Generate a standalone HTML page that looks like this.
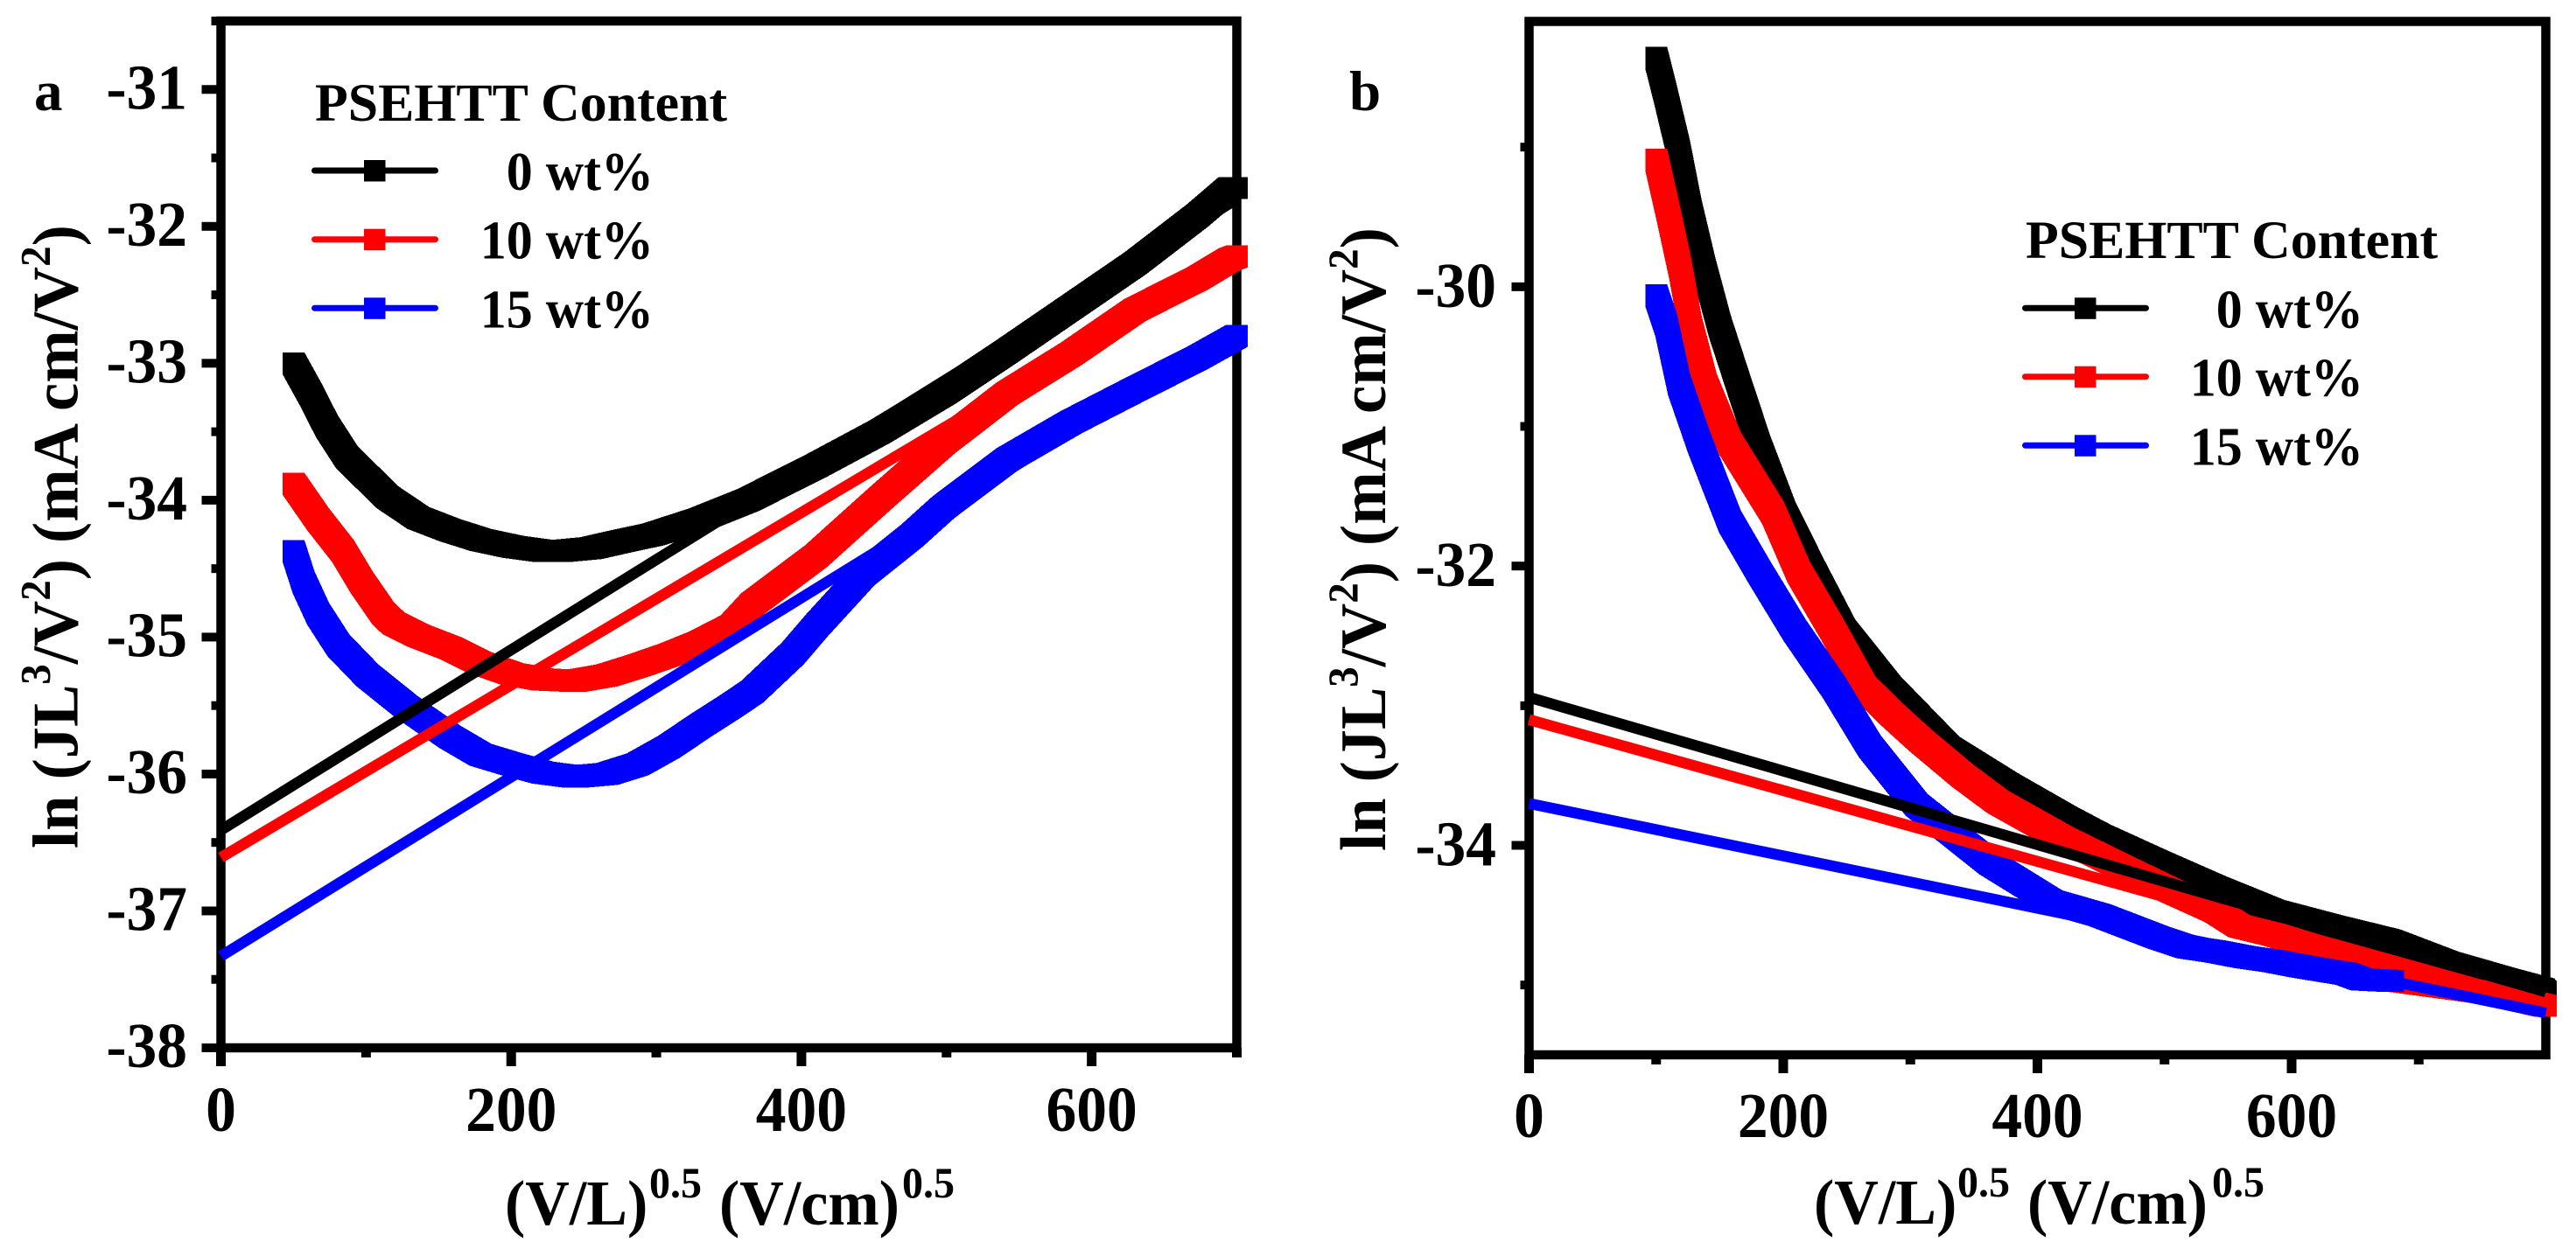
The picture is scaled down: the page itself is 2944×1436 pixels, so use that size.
<!DOCTYPE html>
<html>
<head>
<meta charset="utf-8">
<title>ln(JL3/V2) versus (V/L)0.5 charts</title>
<style>
html,body{margin:0;padding:0;background:#fff;width:2944px;height:1436px;overflow:hidden}
svg{display:block}
text{font-family:"Liberation Serif",serif;font-weight:bold;fill:#000}
</style>
</head>
<body>
<svg id="figure" xmlns="http://www.w3.org/2000/svg" width="2944" height="1436" viewBox="0 0 2944 1436">
<rect x="0" y="0" width="2944" height="1436" fill="#fff"/>
<g id="panel-a">
  <text x="39" y="126" font-size="65">a</text>
  <text transform="translate(88.5,970) rotate(-90) scale(1,1.03)" font-size="72.5">ln (JL<tspan font-size="47" dy="-30.5">3</tspan><tspan dy="30.5">/V</tspan><tspan font-size="47" dy="-30.5">2</tspan><tspan dy="30.5">) (mA cm/V</tspan><tspan font-size="47" dy="-30.5">2</tspan><tspan dy="30.5">)</tspan></text>
  <text transform="translate(0,1400) scale(1,1.04)" font-size="70"><tspan x="577" y="0">(V/L)</tspan><tspan x="742" y="-30" font-size="48">0.5</tspan><tspan x="822" y="0">(V/cm)</tspan><tspan x="1031" y="-30" font-size="48">0.5</tspan></text>
</g>
<g id="panel-b">
  <text x="1542" y="126" font-size="65">b</text>
  <text transform="translate(1583,973) rotate(-90) scale(1,1.03)" font-size="72.5">ln (JL<tspan font-size="47" dy="-30.5">3</tspan><tspan dy="30.5">/V</tspan><tspan font-size="47" dy="-30.5">2</tspan><tspan dy="30.5">) (mA cm/V</tspan><tspan font-size="47" dy="-30.5">2</tspan><tspan dy="30.5">)</tspan></text>
  <text transform="translate(0,1399) scale(1,1.04)" font-size="70"><tspan x="2073" y="0">(V/L)</tspan><tspan x="2237" y="-30" font-size="48">0.5</tspan><tspan x="2317" y="0">(V/cm)</tspan><tspan x="2528" y="-30" font-size="48">0.5</tspan></text>
</g>
</svg>
<script>
// Panel a data
const aBlackX = [50,62,73,87,115,136,158,179,201,222,235,255,276,298,330,363,410,454,498,542,586,630,673,695,700];
const aBlackY = [-33.0,-33.23,-33.46,-33.69,-33.98,-34.13,-34.22,-34.29,-34.34,-34.37,-34.37,-34.35,-34.3,-34.25,-34.14,-34.0,-33.75,-33.5,-33.22,-32.91,-32.59,-32.27,-31.92,-31.72,-31.72];
const aRedX = [50,67,84,97,112,119,136,158,179,201,222,244,266,287,309,330,352,366,410,454,498,542,586,630,673,695,700];
const aRedY = [-33.88,-34.14,-34.37,-34.6,-34.83,-34.9,-34.99,-35.08,-35.19,-35.27,-35.31,-35.32,-35.28,-35.21,-35.13,-35.04,-34.92,-34.76,-34.41,-33.99,-33.58,-33.22,-32.93,-32.61,-32.38,-32.24,-32.22];
const aBlueX = [50,57,67,81,101,128,158,179,201,222,244,266,287,309,330,352,366,394,411,443,476,498,542,586,630,673,695,700];
const aBlueY = [-34.37,-34.6,-34.83,-35.06,-35.28,-35.51,-35.73,-35.86,-35.93,-35.99,-36.02,-36.0,-35.93,-35.8,-35.65,-35.5,-35.4,-35.12,-34.91,-34.54,-34.26,-34.05,-33.7,-33.43,-33.19,-32.96,-32.83,-32.8];
const aFitX = [0,700];
const aFitBlack = [-36.41,-31.8];
const aFitRed = [-36.61,-32.2];
const aFitBlue = [-37.33,-32.75];
const aXMajor = [0,200,400,600];
const aXMinor = [100,300,500,700];
const aYMajor = [-31,-32,-33,-34,-35,-36,-37,-38];
const aYMinor = [-30.5,-31.5,-32.5,-33.5,-34.5,-35.5,-36.5,-37.5];

// Panel b data
const bBlackX = [100,107,118,127,138,150,165,181,201,224,248,284,330,376,422,449,495,540,586,632,677,723,769,798,800];
const bBlackY = [-28.36,-28.61,-29.03,-29.45,-29.87,-30.28,-30.7,-31.14,-31.62,-32.04,-32.46,-32.87,-33.3,-33.56,-33.8,-33.93,-34.12,-34.3,-34.47,-34.58,-34.68,-34.84,-34.96,-35.03,-35.05];
const bRedX = [100,109,119,127,139,158,192,212,239,264,284,307,341,369,420,465,506,540,559,586,632,654,684,757,800];
const bRedY = [-29.09,-29.45,-29.87,-30.28,-30.7,-31.12,-31.62,-32.04,-32.46,-32.87,-33.05,-33.24,-33.5,-33.69,-33.95,-34.15,-34.33,-34.47,-34.58,-34.64,-34.77,-34.83,-34.97,-35.06,-35.15];
const bBlueX = [100,108,118,134,158,181,209,240,268,305,363,411,449,472,495,518,540,563,586,609,643,655,677,680];
const bBlueY = [-30.06,-30.28,-30.7,-31.12,-31.68,-32.04,-32.46,-32.87,-33.29,-33.71,-34.13,-34.4,-34.5,-34.58,-34.66,-34.73,-34.76,-34.8,-34.83,-34.87,-34.92,-34.96,-34.97,-34.97];
const bFitX = [0,800];
const bFitBlack = [-32.94,-35.05];
const bFitRed = [-33.1,-35.13];
const bFitBlue = [-33.7,-35.2];
const bXMajor = [0,200,400,600];
const bXMinor = [100,300,500,700];
const bYMajor = [-30,-32,-34];
const bYMinor = [-29,-31,-33,-35];

const legendLabels = ['0 wt%','10 wt%','15 wt%'];
const seriesColors = ['#000000','#ff0000','#0000ff'];

const NS = 'http://www.w3.org/2000/svg';
function make(tag, attrs, parent){
  const el = document.createElementNS(NS, tag);
  for (const k in attrs) el.setAttribute(k, attrs[k]);
  parent.appendChild(el);
  return el;
}
function scale(d0, d1, r0, r1){
  return v => r0 + (v - d0) * (r1 - r0) / (d1 - d0);
}
function sweepPath(xs, ys, sx, sy, h){
  let d = '';
  for (let i = 0; i < xs.length - 1; i++){
    const x0 = sx(xs[i]), y0 = sy(ys[i]), x1 = sx(xs[i+1]), y1 = sy(ys[i+1]);
    let p;
    if (y1 <= y0){
      p = [[x0-h,y0+h],[x0-h,y0-h],[x1-h,y1-h],[x1+h,y1-h],[x1+h,y1+h],[x0+h,y0+h]];
    } else {
      p = [[x0-h,y0-h],[x0+h,y0-h],[x1+h,y1-h],[x1+h,y1+h],[x1-h,y1+h],[x0-h,y0+h]];
    }
    d += 'M' + p.map(q => q[0].toFixed(1) + ' ' + q[1].toFixed(1)).join('L') + 'Z';
  }
  return d;
}
function drawAxes(g, cfg){
  const sx = cfg.sx, sy = cfg.sy;
  const frame = make('rect', {x:cfg.left, y:cfg.top, width:cfg.right-cfg.left, height:cfg.bottom-cfg.top, fill:'none', stroke:'#000', 'stroke-width':10.5}, g);
  
  
  cfg.yMajor.forEach(v => {
    const t = make('rect', {x:cfg.left-cfg.yMajorLen, y:sy(v)-5, width:cfg.yMajorLen, height:10, fill:'#000'}, g);
    
    
    const l = make('text', {transform:'translate(' + cfg.yLabelX + ',' + (sy(v)+cfg.yLabelDy) + ') scale(1,1.05)', 'font-size':69.5, 'text-anchor':'end'}, g);
    l.textContent = String(v);
    
    
  });
  cfg.yMinor.forEach(v => {
    const t = make('rect', {x:cfg.left-cfg.yMinorLen, y:sy(v)-5, width:cfg.yMinorLen, height:10, fill:'#000'}, g);
    
    
  });
  cfg.xMajor.forEach(v => {
    const t = make('rect', {x:sx(v)-5.5, y:cfg.bottom, width:11, height:cfg.xMajorLen, fill:'#000'}, g);
    
    
    const l = make('text', {transform:'translate(' + sx(v) + ',' + cfg.xLabelY + ') scale(1,1.05)', 'font-size':69.5, 'text-anchor':'middle'}, g);
    l.textContent = String(v);
    
    
  });
  cfg.xMinor.forEach(v => {
    const t = make('rect', {x:sx(v)-5.5, y:cfg.bottom, width:11, height:cfg.xMinorLen, fill:'#000'}, g);
    
    
  });
}
function drawSeries(g, cfg){
  const names = ['0-wt', '10-wt', '15-wt'];
  cfg.curves.forEach((c, i) => {
    const p = make('path', {d:sweepPath(c[0], c[1], cfg.sx, cfg.sy, 12.5), fill:seriesColors[i], 'fill-rule':'nonzero', 'shape-rendering':'crispEdges'}, g);
    
    
  });
  cfg.fits.forEach((f, i) => {
    const l = make('line', {x1:cfg.sx(cfg.fitX[0]), y1:cfg.sy(f[0]), x2:cfg.sx(cfg.fitX[1]), y2:cfg.sy(f[1]), stroke:seriesColors[i], 'stroke-width':12.5}, g);
    
    
  });
}
function drawLegend(g, cfg){
  const lg = make('g', {}, g);
  
  
  const title = make('text', {x:cfg.legTitleX, y:cfg.legTitleY, 'font-size':61.8}, lg);
  title.textContent = 'PSEHTT Content';
  
  
  legendLabels.forEach((txt, i) => {
    const y = cfg.legRows[i];
    const ln = make('line', {x1:cfg.legX0+3.5, y1:y, x2:cfg.legX1-3.5, y2:y, stroke:seriesColors[i], 'stroke-width':7, 'stroke-linecap':'round'}, lg);
    
    
    const mk = make('rect', {x:(cfg.legX0+cfg.legX1)/2-12.5, y:y-12, width:24.5, height:24.5, fill:seriesColors[i]}, lg);
    
    
    const t = make('text', {transform:'translate(' + cfg.legLabelX + ',' + (y+22) + ') scale(1,1.05)', 'font-size':60, 'text-anchor':'end'}, lg);
    t.textContent = txt;
    
    
  });
}
const cfgA = {
  id:'panel-a', left:252.5, right:1413.5, top:24, bottom:1198,
  sx:scale(0,700,252.5,1413.5), sy:scale(-38,-30.5,1198,24),
  yMajor:aYMajor, yMinor:aYMinor, xMajor:aXMajor, xMinor:aXMinor,
  yMajorLen:22, yMinorLen:11, xMajorLen:21, xMinorLen:11,
  yLabelX:214, yLabelDy:22, xLabelY:1293,
  curves:[[aBlackX,aBlackY],[aRedX,aRedY],[aBlueX,aBlueY]],
  fits:[aFitBlack,aFitRed,aFitBlue], fitX:aFitX,
  legTitleX:360, legTitleY:138, legX0:356, legX1:501, legLabelX:747, legRows:[195,273.7,352.3]
};
const cfgB = {
  id:'panel-b', left:1747.5, right:2909.5, top:24.5, bottom:1206,
  sx:scale(0,800,1747.5,2909.5), sy:scale(-35.5,-28.1,1206,24.5),
  yMajor:bYMajor, yMinor:bYMinor, xMajor:bXMajor, xMinor:bXMinor,
  yMajorLen:20, yMinorLen:10, xMajorLen:21, xMinorLen:11,
  yLabelX:1710, yLabelDy:23, xLabelY:1300,
  curves:[[bBlackX,bBlackY],[bRedX,bRedY],[bBlueX,bBlueY]],
  fits:[bFitBlack,bFitRed,bFitBlue], fitX:bFitX,
  legTitleX:2315, legTitleY:295, legX0:2311, legX1:2456, legLabelX:2701, legRows:[352.3,430.7,509.3]
};
[[cfgA,'panel-a'],[cfgB,'panel-b']].forEach(pair => {
  const g = document.getElementById(pair[1]);
  drawAxes(g, pair[0]);
  drawSeries(g, pair[0]);
  drawLegend(g, pair[0]);
});
</script>
</body>
</html>
